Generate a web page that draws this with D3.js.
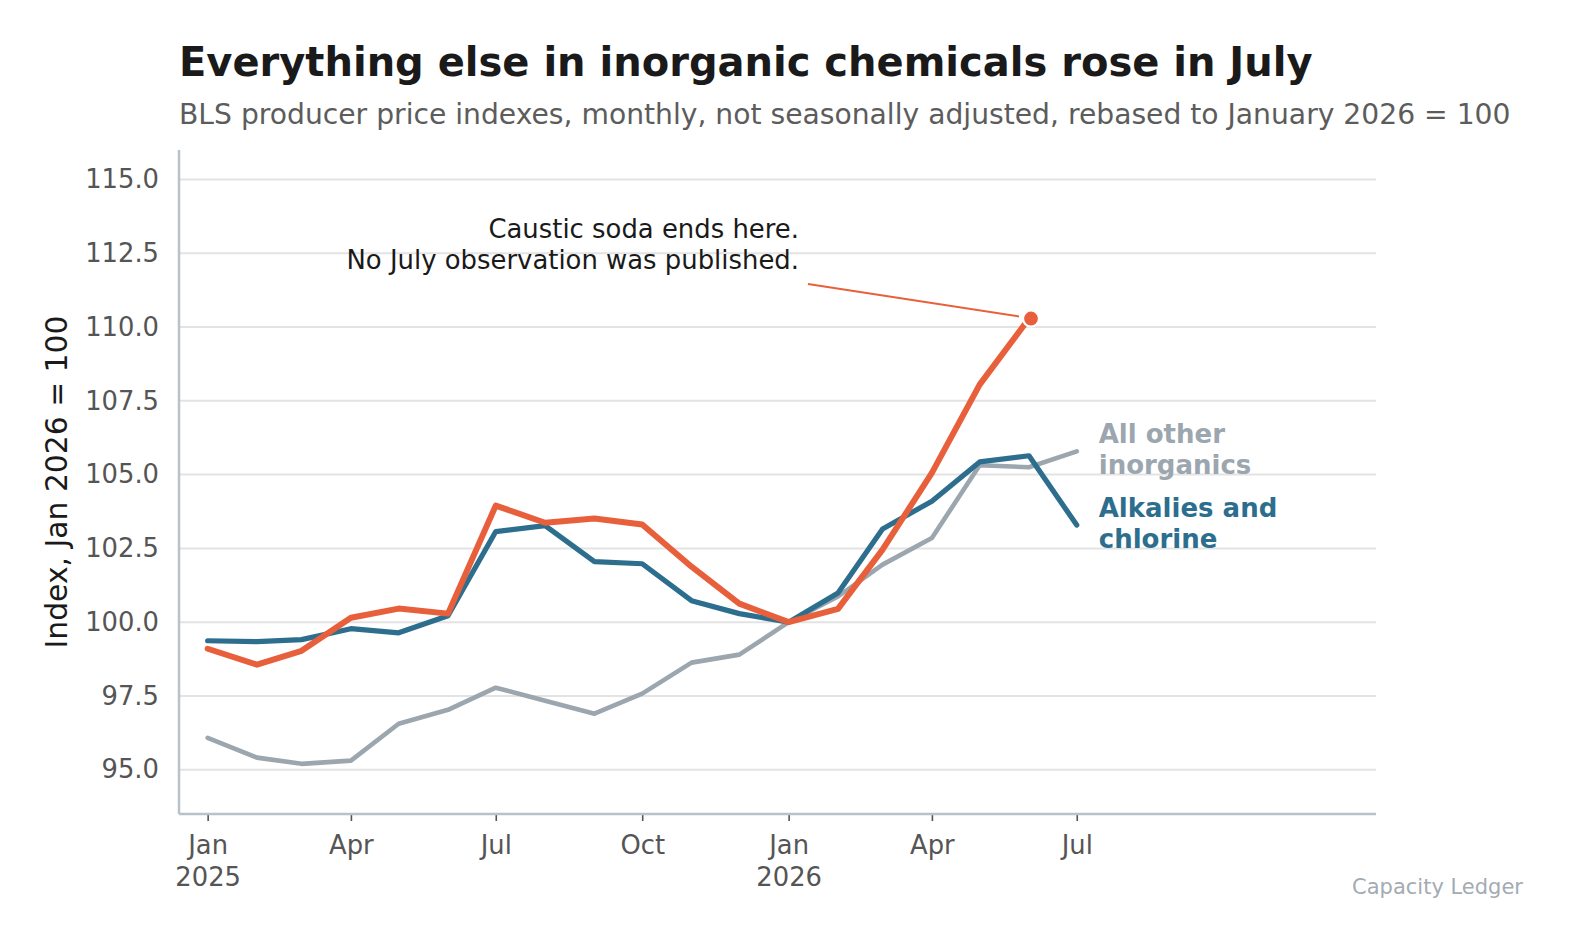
<!DOCTYPE html>
<html>
<head>
<meta charset="utf-8">
<script src="https://cdn.jsdelivr.net/npm/d3@7"></script>
<style>
  html, body { margin: 0; padding: 0; background: #fff; }
  svg { display: block; font-family: "DejaVu Sans", sans-serif; }
</style>
</head>
<body>
<svg id="chart" width="1570" height="945"></svg>
<script>
// monthly index values, Jan 2026 = 100
const months = ["2025-01", "2025-02", "2025-03", "2025-04", "2025-05", "2025-06",
  "2025-07", "2025-08", "2025-09", "2025-10", "2025-11", "2025-12",
  "2026-01", "2026-02", "2026-03", "2026-04", "2026-05", "2026-06", "2026-07"];

const other_inorganics = [96.08, 95.41, 95.2, 95.31, 96.56, 97.03, 97.78, 97.34, 96.9, 97.58,
  98.63, 98.9, 100.0, 100.87, 101.95, 102.85, 105.32, 105.25, 105.79];
const alkalies_chlorine = [99.37, 99.34, 99.41, 99.78, 99.64, 100.22, 103.07, 103.27, 102.05, 101.98,
  100.73, 100.29, 100.0, 100.99, 103.16, 104.1, 105.43, 105.64, 103.29];
// no July 2026 observation for caustic soda
const caustic_soda = [99.1, 98.56, 99.03, 100.15, 100.46, 100.29, 103.95, 103.37, 103.51, 103.31,
  101.88, 100.63, 100.0, 100.45, 102.46, 105.06, 108.05, 110.29, null];

const y_ticks = [95, 97.5, 100, 102.5, 105, 107.5, 110, 112.5, 115];
const x_ticks = ["2025-01", "2025-04", "2025-07", "2025-10", "2026-01", "2026-04", "2026-07"];

const COLORS = { gray: "#9ba6af", blue: "#2d6e8e", orange: "#e8603b", grid: "#e3e3e3", spine: "#b9c1c9", tick: "#555" };

const margin = { left: 179, top: 150, right: 194, bottom: 131 };
const WIDTH = 1570, HEIGHT = 945;
const w = WIDTH - margin.left - margin.right;
const h = HEIGHT - margin.top - margin.bottom;

const parse = d3.utcParse("%Y-%m");
const dates = months.map(parse);

const x = d3.scaleUtc()
  .domain([new Date(Date.UTC(2024, 11, 14)), new Date(Date.UTC(2027, 0, 5))])
  .range([0, w]);
const y = d3.scaleLinear().domain([93.5, 116]).range([h, 0]);

const svg = d3.select("#chart");

// titles
svg.append("text")
  .attr("x", 179).attr("y", 76)
  .style("font-size", "40px").style("font-weight", "bold").style("fill", "#1a1a1a")
  .text("Everything else in inorganic chemicals rose in July");
svg.append("text")
  .attr("x", 179).attr("y", 124)
  .style("font-size", "28.2px").style("fill", "#5c5c5c")
  .text("BLS producer price indexes, monthly, not seasonally adjusted, rebased to January 2026 = 100");

const g = svg.append("g").attr("transform", `translate(${margin.left},${margin.top})`);

// grid lines
g.append("g")
  .selectAll("line")
  .data(y_ticks)
  .join("line")
  .attr("x1", 0).attr("x2", w)
  .attr("y1", d => y(d)).attr("y2", d => y(d))
  .style("stroke", COLORS.grid).style("stroke-width", 2);

// y axis
const yAxis = g.append("g")
  .call(d3.axisLeft(y).tickValues(y_ticks).tickFormat(d3.format(".1f")).tickSize(0).tickPadding(20));
yAxis.select(".domain").remove();
yAxis.selectAll("text")
  .style("font-family", "DejaVu Sans").style("font-size", "25.8px").style("fill", COLORS.tick);

// x axis
const xAxis = g.append("g")
  .attr("transform", `translate(0,${h})`)
  .call(d3.axisBottom(x).tickValues(x_ticks.map(parse)).tickSize(7).tickFormat(""));
xAxis.select(".domain").remove();
xAxis.selectAll(".tick line").style("stroke", COLORS.tick).style("stroke-width", 1.6);
xAxis.selectAll(".tick").each(function (d) {
  const t = d3.select(this).append("text")
    .attr("text-anchor", "middle")
    .style("font-family", "DejaVu Sans").style("font-size", "25.8px").style("fill", COLORS.tick);
  t.append("tspan").attr("x", 0).attr("y", 40).text(d3.utcFormat("%b")(d));
  if (d.getUTCMonth() === 0) {
    t.append("tspan").attr("x", 0).attr("y", 72).text(d3.utcFormat("%Y")(d));
  }
});

// spines
g.append("line").attr("x1", 0).attr("x2", 0).attr("y1", 0).attr("y2", h)
  .style("stroke", COLORS.spine).style("stroke-width", 2.5);
g.append("line").attr("x1", 0).attr("x2", w).attr("y1", h).attr("y2", h)
  .style("stroke", COLORS.spine).style("stroke-width", 2.5);

// series lines
const line = d3.line()
  .defined(d => d.v !== null)
  .x(d => x(d.date))
  .y(d => y(d.v));

const series = [
  { name: "other", values: other_inorganics, color: COLORS.gray, width: 4.6 },
  { name: "alkalies", values: alkalies_chlorine, color: COLORS.blue, width: 5.2 },
  { name: "caustic", values: caustic_soda, color: COLORS.orange, width: 6 }
];

series.forEach(s => {
  const pts = s.values.map((v, i) => ({ date: dates[i], v: v }));
  g.append("path")
    .datum(pts)
    .attr("d", line)
    .style("fill", "none")
    .style("stroke", s.color)
    .style("stroke-width", s.width)
    .style("stroke-linejoin", "round")
    .style("stroke-linecap", "round");
});

// caustic soda end point + annotation
const lastIdx = caustic_soda.findIndex(v => v === null) - 1;
const endX = x(dates[lastIdx]);
const endY = y(caustic_soda[lastIdx]);

g.append("line")
  .attr("x1", 808 - margin.left).attr("y1", 284 - margin.top)
  .attr("x2", endX - 10).attr("y2", endY - 2)
  .style("stroke", COLORS.orange).style("stroke-width", 2);

g.append("circle")
  .attr("cx", endX + 2).attr("cy", endY)
  .attr("r", 8)
  .style("fill", COLORS.orange)
  .style("stroke", "#fff").style("stroke-width", 2.2);

const note = g.append("text")
  .attr("text-anchor", "end")
  .style("font-size", "25.9px").style("fill", "#1a1a1a");
note.append("tspan").attr("x", 799 - margin.left).attr("y", 238 - margin.top).text("Caustic soda ends here.");
note.append("tspan").attr("x", 799 - margin.left).attr("y", 269 - margin.top).text("No July observation was published.");

// direct labels
const labelX = x(dates[dates.length - 1]) + 22;
const labels = [
  { lines: ["All other", "inorganics"], color: COLORS.gray, y: 443 },
  { lines: ["Alkalies and", "chlorine"], color: COLORS.blue, y: 517 }
];
labels.forEach(l => {
  const t = g.append("text")
    .style("font-size", "26px").style("font-weight", "bold").style("fill", l.color);
  l.lines.forEach((s, i) => {
    t.append("tspan").attr("x", labelX).attr("y", l.y - margin.top + i * 30.5).text(s);
  });
});

// source
svg.append("text")
  .attr("x", 1523).attr("y", 894)
  .attr("text-anchor", "end")
  .style("font-size", "21px").style("fill", "#a3abb3")
  .text("Capacity Ledger");

// y axis title
svg.append("text")
  .attr("transform", `translate(67,${margin.top + h / 2}) rotate(-90)`)
  .attr("text-anchor", "middle")
  .style("font-size", "29.8px").style("fill", "#1a1a1a")
  .text("Index, Jan 2026 = 100");
</script>
</body>
</html>
